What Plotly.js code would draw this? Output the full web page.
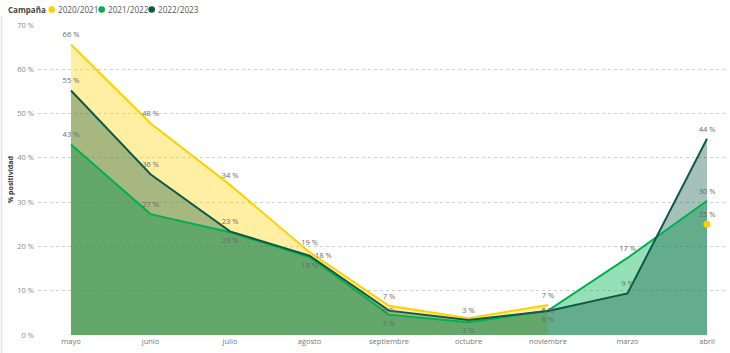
<!DOCTYPE html>
<html>
<head>
<meta charset="utf-8">
<script src="https://cdn.plot.ly/plotly-3.0.1.min.js"></script>
<style>html,body{margin:0;padding:0;background:#fff;}#chart{width:730px;height:353px;}</style>
</head>
<body>
<div id="chart"></div>
<script>
// ---- data ----
const meses = ['mayo', 'junio', 'julio', 'agosto', 'septiembre', 'octubre', 'noviembre', 'marzo', 'abril'];
const campanas = ['2020/2021', '2021/2022', '2022/2023'];
const serie2020 = [65.6, 47.8, 33.9, 18.7, 6.6, 3.8, 6.8, null, 25.0];
const serie2021 = [43.0, 27.3, 23.2, 17.6, 4.6, 2.9, 5.5, 17.4, 30.3];
const serie2022 = [55.2, 36.3, 23.4, 17.9, 5.5, 3.4, 5.4, 9.4, 44.3];
const yTickVals = [0, 10, 20, 30, 40, 50, 60, 70];
const yTickText = ['0 %', '10 %', '20 %', '30 %', '40 %', '50 %', '60 %', '70 %'];
const ocultas2020 = ['octubre'];

// ---- styles ----
const FONT = 'Open Sans, Segoe UI, sans-serif';
const lineColors = ['#FFD000', '#00B050', '#0E5A47'];
const fillColors = ['rgba(255,210,0,0.36)', 'rgba(0,180,80,0.41)', 'rgba(13,88,69,0.37)'];
const pos2020 = meses.map(() => 'top center');
const pos2021 = ['top center', 'top center', 'bottom center', 'bottom center', 'bottom center', 'bottom center', 'bottom center', 'top center', 'top center'];
const pos2022 = ['top center', 'top center', 'top center', 'middle right', 'middle center', 'top center', 'middle center', 'top center', 'top center'];

const series = [serie2020, serie2021, serie2022];
const positions = [pos2020, pos2021, pos2022];
const hidden = [ocultas2020, [], []];

function labels(vals, hide) {
  return vals.map((v, i) => (v === null || hide.indexOf(meses[i]) >= 0) ? '' : Math.round(v) + ' %');
}
function isolated(vals) {
  return vals.map((v, i) => {
    if (v === null) return false;
    const prev = i > 0 ? vals[i - 1] : null;
    const next = i < vals.length - 1 ? vals[i + 1] : null;
    return prev === null && next === null;
  });
}
// contiguous runs (for fills that must break at gaps)
function runs(vals) {
  const out = [];
  let cur = null;
  vals.forEach((v, i) => {
    if (v === null) { if (cur) { out.push(cur); cur = null; } return; }
    if (!cur) cur = {x: [], y: []};
    cur.x.push(meses[i]); cur.y.push(v);
  });
  if (cur) out.push(cur);
  return out.filter(r => r.x.length > 1);
}

const traces = [];
// fills first
series.forEach((vals, k) => {
  runs(vals).forEach(r => {
    traces.push({
      x: r.x, y: r.y, type: 'scatter', mode: 'none', fill: 'tozeroy',
      fillcolor: fillColors[k], showlegend: false, hoverinfo: 'skip', name: campanas[k]
    });
  });
});
// lines + labels on top
series.forEach((vals, k) => {
  const iso = isolated(vals);
  traces.push({
    x: meses, y: vals, type: 'scatter', mode: 'lines+markers+text',
    name: campanas[k], showlegend: false, hoverinfo: 'skip',
    line: {color: lineColors[k], width: 2},
    marker: {color: lineColors[k], size: 7, opacity: iso.map(b => b ? 1 : 0), line: {width: 0}},
    text: labels(vals, hidden[k]), textposition: positions[k],
    textfont: {family: FONT, size: 7.5, color: '#6a6a6a'},
    cliponaxis: false
  });
});

// pixel helpers for layout
const L = 38, R = 2, T = 25, B = 18, W = 730, H = 353;
const pw = W - L - R, ph = H - T - B;
const px = p => (p - L) / pw;
const py = p => (H - B - p) / ph;

const annotations = [{
  xref: 'paper', yref: 'paper', x: px(6), y: py(9.5), xanchor: 'left', yanchor: 'middle',
  text: '<b>Campaña</b>', showarrow: false, font: {family: FONT, size: 8, color: '#444'}
}];
const shapes = [{
  type: 'line', xref: 'paper', yref: 'paper', x0: px(1.5), x1: px(1.5), y0: py(16), y1: py(353),
  line: {color: '#e2e2e2', width: 1.5}
}];
campanas.forEach((c, i) => {
  const cx = 51.7 + i * 50;
  shapes.push({
    type: 'circle', xref: 'paper', yref: 'paper', xsizemode: 'pixel', ysizemode: 'pixel',
    xanchor: px(cx), yanchor: py(9.5), x0: -3.3, x1: 3.3, y0: -3.3, y1: 3.3,
    fillcolor: lineColors[i], line: {width: 0}
  });
  annotations.push({
    xref: 'paper', yref: 'paper', x: px(cx + 4), y: py(9.5), xanchor: 'left', yanchor: 'middle',
    text: c, showarrow: false, font: {family: FONT, size: 8.2, color: '#555'}
  });
});
annotations.push({
  xref: 'paper', yref: 'paper', x: px(10), y: py(180), xanchor: 'center', yanchor: 'middle',
  text: '<b>% positividad</b>', textangle: -90, showarrow: false,
  font: {family: FONT, size: 7, color: '#333'}
});

const layout = {
  width: W, height: H,
  margin: {l: L, r: R, t: T, b: B, pad: 0},
  paper_bgcolor: '#fff', plot_bgcolor: '#fff',
  showlegend: false,
  font: {family: FONT},
  xaxis: {
    type: 'category', categoryorder: 'array', categoryarray: meses,
    range: [-0.415, 8.264], showgrid: false, zeroline: false, showline: false,
    ticks: '', tickfont: {family: FONT, size: 7.5, color: '#777'}, fixedrange: true
  },
  yaxis: {
    range: [0, 70], tickvals: yTickVals, ticktext: yTickText,
    showgrid: true, gridcolor: '#cfcfcf', griddash: 'dot', gridwidth: 1,
    zeroline: false, showline: false, ticks: '', ticklabelstandoff: 3,
    tickfont: {family: FONT, size: 7.5, color: '#888'}, fixedrange: true
  },
  annotations: annotations,
  shapes: shapes
};

Plotly.newPlot('chart', traces, layout, {displayModeBar: false, staticPlot: true});
</script>
</body>
</html>
